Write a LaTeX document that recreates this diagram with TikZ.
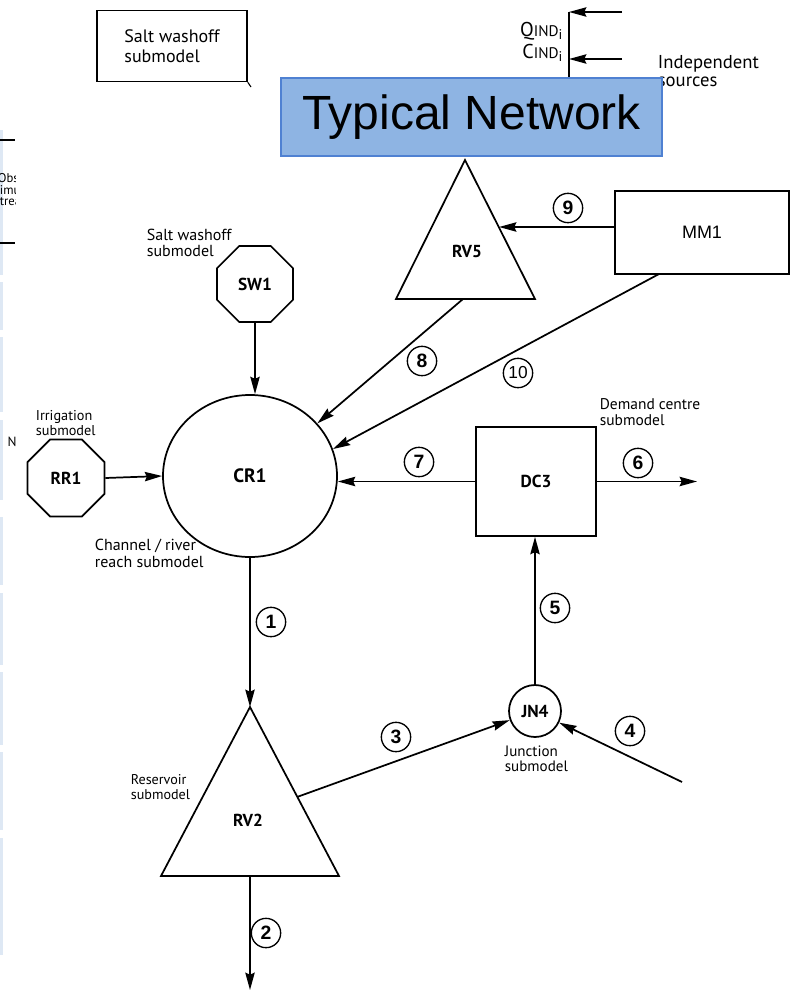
\documentclass[tikz,border=0pt]{standalone}
\usepackage{fontspec}
\setmainfont{PT Sans}
\newfontfamily\arialfont{Liberation Sans}
\usetikzlibrary{arrows.meta,shapes.geometric}
\definecolor{edgeblue}{RGB}{222,232,244}
\definecolor{titlefill}{RGB}{142,180,227}
\definecolor{titleline}{RGB}{79,129,210}

\begin{document}
\begin{tikzpicture}[x=0.75pt,y=-0.75pt,
  line width=1.3pt,
  flow/.style={-{Stealth[length=13pt,width=7pt,inset=1.5pt]}},
  tag/.style={circle,draw,line width=1pt,minimum size=22pt,inner sep=0pt,
    font=\arialfont\bfseries\fontsize{14.5}{14.5}\selectfont},
  ident/.style={inner sep=0pt,font=\bfseries\fontsize{13}{13}\selectfont},
  octa/.style={regular polygon,regular polygon sides=8,draw,inner sep=0pt,
    font=\bfseries\fontsize{13}{13}\selectfont},
  note/.style={align=left,inner sep=0pt,anchor=west}
]
\fill[white] (0,0) rectangle (791,992);
\useasboundingbox (0,0) rectangle (791,992);

% faint page edge on the left
\foreach \ya/\yb in {130/275,282/330,337/412,420/500,517/585,593/665,672/745,752/830,838/955}
  \draw[edgeblue,line width=1.5pt] (1.5,\ya) -- (1.5,\yb);

% cut-off fragments at the left margin
\begin{scope}
  \clip (0,0) rectangle (15,992);
  \draw[line width=0.8pt] (0,140) -- (15,140);
  \draw[line width=0.8pt] (0,243) -- (15,243);
  \node[note,font=\fontsize{9.5}{10}\selectfont] (fragA) at (-3,178) {Obs};
  \node[note,font=\fontsize{9.5}{10}\selectfont] (fragB) at (-1,190) {imu};
  \node[note,font=\fontsize{9.5}{10}\selectfont] (fragC) at (-1,202) {trea};
\end{scope}
\node[inner sep=0pt,font=\fontsize{10}{10}\selectfont] (fragN) at (12,442) {N};

% legend box, top left
\node[draw,line width=1.1pt,minimum width=112.5pt,minimum height=53.25pt,align=left,
  font=\fontsize{13.5}{15}\selectfont] (swbox) at (172,46) {Salt washoff\\submodel};
\coordinate (swtail) at (251,87);
\draw[line width=0.8pt] (swbox.south east) -- (swtail);

% independent sources
\coordinate (qtop) at (569,12);
\coordinate (qmid) at (569,59);
\coordinate (qbot) at (569,80);
\coordinate (qin1) at (622,12);
\coordinate (qin2) at (622,59);
\draw (qtop) -- (qbot);
\draw[flow] (qin1) -- (qtop);
\draw[flow] (qin2) -- (qmid);
\node[inner sep=0pt,anchor=east,font=\fontsize{15}{15}\selectfont] (qind) at (564,31)
  {Q{\fontsize{11.5}{12}\selectfont IND}\textsubscript{i}};
\node[inner sep=0pt,anchor=east,font=\fontsize{15}{15}\selectfont] (cind) at (564,53)
  {C{\fontsize{11.5}{12}\selectfont IND}\textsubscript{i}};
\node[note,font=\fontsize{14}{13.5}\selectfont] (indep) at (657,71) {Independent\\sources};

% title banner
\node[draw=titleline,fill=titlefill,line width=1pt,minimum width=285.75pt,minimum height=58.5pt,
  font=\arialfont\fontsize{36}{36}\selectfont] (title) at (471.5,117) {Typical Network};

% reservoir RV5
\coordinate (rv5apex) at (465,160);
\coordinate (rv5br) at (535,299);
\coordinate (rv5bl) at (396,299);
\draw (rv5apex) -- (rv5br) -- (rv5bl) -- cycle;
\node[ident] (RV5) at (467,251) {RV5};
\coordinate (rv5in) at (499,227);
\coordinate (rv5out) at (463,299);

% MM1
\node[draw,minimum width=130.5pt,minimum height=62.25pt,
  font=\arialfont\fontsize{13.5}{14}\selectfont] (MM1) at (702,232.5) {MM1};
\coordinate (mm1foot) at (659,274);

% channel / river reach CR1
\node[ellipse,draw,minimum width=130.5pt,minimum height=121.5pt,inner sep=0pt,
  font=\bfseries\fontsize{14.5}{14.5}\selectfont] (CR1) at (250,476) {CR1};

% salt washoff SW1
\node[octa,minimum size=61.7pt] (SW1) at (255,284) {SW1};
\node[note,font=\fontsize{12}{12}\selectfont] (swlab) at (146,243) {Salt washoff\\submodel};

% irrigation RR1
\node[octa,minimum size=62.5pt] (RR1) at (66,478) {RR1};
\node[note,font=\fontsize{10.7}{11.5}\selectfont] (rrlab) at (35,423) {Irrigation\\submodel};
\node[note,font=\fontsize{12}{12.75}\selectfont] (crlab) at (94,553) {Channel / river\\reach submodel};

% demand centre DC3
\node[draw,minimum width=90pt,minimum height=81.75pt,ident] (DC3) at (536,481.5) {DC3};
\node[note,font=\fontsize{11.6}{12}\selectfont] (dclab) at (599,412) {Demand centre\\submodel};
\coordinate (out6) at (697,481.5);

% reservoir RV2
\coordinate (rv2apex) at (250,707);
\coordinate (rv2br) at (339,876);
\coordinate (rv2bl) at (161,876);
\draw (rv2apex) -- (rv2br) -- (rv2bl) -- cycle;
\node[ident] (RV2) at (248,820) {RV2};
\node[note,font=\fontsize{10.6}{11.25}\selectfont] (rvlab) at (130,787) {Reservoir\\submodel};
\coordinate (rv2foot) at (250,876);
\coordinate (out2) at (250,990);
\coordinate (rv2side) at (297,797);

% junction JN4
\node[circle,draw,minimum size=39pt,inner sep=0pt,ident] (JN4) at (535,711) {JN4};
\node[note,font=\fontsize{11.3}{11.5}\selectfont] (jnlab) at (504,759) {Junction\\submodel};
\coordinate (in4) at (682,782);

% flows
\draw[flow] (MM1.west |- rv5in) -- (rv5in);
\draw[flow] (rv5out) -- (CR1.38.9);
\draw[flow] (mm1foot) -- (CR1.18.6);
\draw[flow] (SW1.south) -- (SW1.south |- CR1.north);
\draw[flow] (RR1.east) -- (CR1.west);
\draw[flow] (DC3.west) -- (CR1.east |- DC3.west);
\draw[flow] (DC3.east) -- (out6);
\draw[flow] (CR1.south) -- (rv2apex);
\draw[flow] (rv2foot) -- (out2);
\draw[flow] (rv2side) -- (JN4);
\draw[flow] (in4) -- (JN4);
\draw[flow] (JN4.north) -- (JN4.north |- DC3.south);

% flow numbers
\node[tag] (t1) at (271,622) {1};
\node[tag] (t2) at (266,933) {2};
\node[tag] (t3) at (396,737) {3};
\node[tag] (t4) at (630,731) {4};
\node[tag] (t5) at (555,608) {5};
\node[tag] (t6) at (638,463) {6};
\node[tag] (t7) at (419,462) {7};
\node[tag] (t8) at (422,361) {8};
\node[tag] (t9) at (568,208) {9};
\node[tag,font=\arialfont\fontsize{13}{13}\selectfont] (t10) at (518,373) {10};
\end{tikzpicture}
\end{document}
